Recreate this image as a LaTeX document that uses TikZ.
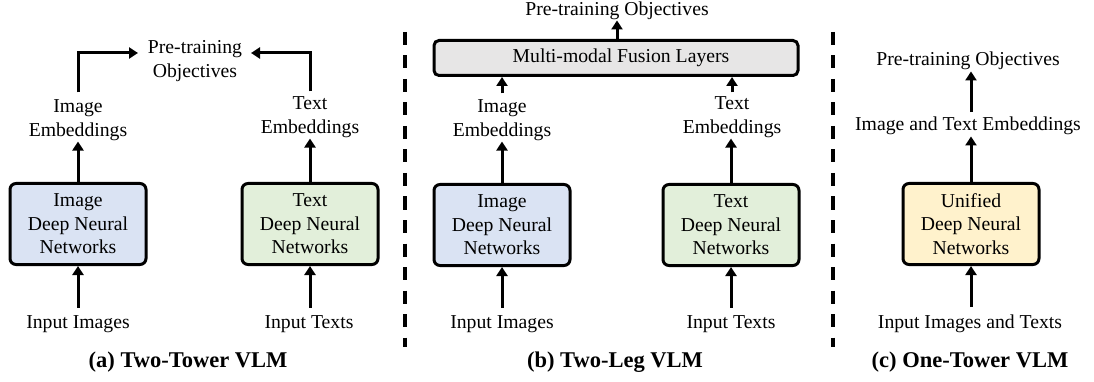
\documentclass[tikz,border=0pt]{standalone}
\usepackage{fontspec}
\setmainfont{Liberation Serif}
\usetikzlibrary{arrows.meta}
\definecolor{blueFill}{HTML}{DAE3F3}
\definecolor{greenFill}{HTML}{E2EFDA}
\definecolor{yellowFill}{HTML}{FFF2CC}
\definecolor{grayFill}{HTML}{E7E6E6}
\begin{document}
\begin{tikzpicture}[x=1pt,y=-1pt,
  every node/.style={font=\fontsize{19.7}{23.5}\selectfont, inner sep=0pt, align=center},
  netbox/.style={draw, line width=3pt, rounded corners=6pt, minimum width=136pt, minimum height=81pt},
  fusionbox/.style={draw, line width=3pt, rounded corners=5pt, fill=grayFill, minimum width=364pt, minimum height=35pt},
  arr/.style={line width=3pt, -{Triangle[length=9pt,width=11pt]}},
  sepline/.style={line width=3.2pt, dash pattern=on 13pt off 10.5pt},
  captxt/.style={anchor=base, font=\fontsize{22.5}{26}\selectfont\bfseries}
]
\useasboundingbox (0,0) rectangle (1094,382);

% ---------- (a) two towers ----------
\node[netbox, fill=blueFill]  (ia) at (78,224)  {Image\\Deep Neural\\Networks};
\node[netbox, fill=greenFill] (ta) at (310,224) {Text\\Deep Neural\\Networks};
\node[anchor=base] (iain) at (78,328)  {Input Images};
\node[anchor=base] (tain) at (309,328) {Input Texts};
\node (iaemb) at (78,120)  {Image\\Embeddings};
\node (taemb) at (310,117) {Text\\Embeddings};
\node (obja)  at (195,61)  {Pre-training\\Objectives};
\coordinate (oal) at (138,53);
\coordinate (oar) at (251,53);
\node[captxt] (capa) at (188,367) {(a) Two-Tower VLM};

\draw[arr, shorten <=7pt] (iain.north) -- (ia.south);
\draw[arr, shorten <=7pt] (tain.north -| ta.south) -- (ta.south);
\draw[arr, shorten >=1pt] (ia.north) -- (iaemb.south -| ia.north);
\draw[arr, shorten >=1pt] (ta.north) -- (taemb.south -| ta.north);
\draw[arr, shorten <=7pt] (iaemb.north) |- (oal);
\draw[arr, shorten <=5pt] (taemb.north) |- (oar);

% ---------- (b) two legs ----------
\coordinate (d1t) at (405,32);
\coordinate (d1b) at (405,347);
\draw[sepline] (d1t) -- (d1b);

\node[fusionbox] (fus) at (616,58) {\hspace*{10pt}Multi-modal Fusion Layers};
\node[anchor=base] (objb) at (617,16) {Pre-training Objectives};
\node[netbox, fill=blueFill]  (ib) at (502,225) {Image\\Deep Neural\\Networks};
\node[netbox, fill=greenFill] (tb) at (731,225) {Text\\Deep Neural\\Networks};
\node (ibemb) at (502,120) {Image\\Embeddings};
\node (tbemb) at (732,117) {Text\\Embeddings};
\node[anchor=base] (ibin) at (502,328) {Input Images};
\node[anchor=base] (tbin) at (731,328) {Input Texts};
\node[captxt] (capb) at (615,367) {(b) Two-Leg VLM};

\draw[arr] (fus.north -| objb.south) -- (objb.south);
\draw[arr, shorten <=6pt] (ibemb.north) -- (ibemb.north |- fus.south);
\draw[arr, shorten <=4pt] (tbemb.north) -- (tbemb.north |- fus.south);
\draw[arr, shorten >=1pt] (ib.north) -- (ibemb.south -| ib.north);
\draw[arr, shorten >=1pt] (tb.north) -- (tbemb.south -| tb.north);
\draw[arr, shorten <=7pt] (ibin.north) -- (ib.south);
\draw[arr, shorten <=7pt] (tbin.north -| tb.south) -- (tb.south);

% ---------- (c) one tower ----------
\coordinate (d2t) at (833,32);
\coordinate (d2b) at (833,347);
\draw[sepline] (d2t) -- (d2b);

\node[anchor=base] (objc) at (968,66)  {Pre-training Objectives};
\node[anchor=base] (embc) at (968,131) {Image and Text Embeddings};
\node[netbox, fill=yellowFill] (uc) at (971,224) {Unified\\Deep Neural\\Networks};
\node[anchor=base] (inc) at (970,328) {Input Images and Texts};
\node[captxt] (capc) at (970,367) {(c) One-Tower VLM};

\draw[arr, shorten <=7pt] (inc.north -| uc.south) -- (uc.south);
\draw[arr, shorten >=1pt] (uc.north) -- (embc.south -| uc.north);
\draw[arr, shorten <=5pt, shorten >=1pt] (embc.north -| uc.north) -- (objc.south -| uc.north);
\end{tikzpicture}
\end{document}
